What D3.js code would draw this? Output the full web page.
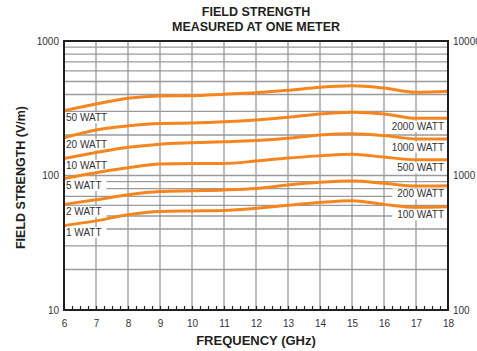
<!DOCTYPE html>
<html>
<head>
<meta charset="utf-8">
<script src="https://cdn.jsdelivr.net/npm/d3@7"></script>
<style>
  body { margin: 0; background: #fff; }
  svg { display: block; font-family: "Liberation Sans", Arial, sans-serif; }
  .tick text { fill: #333; font-size: 10px; }
  .wlabel { fill: #333; font-size: 10px; }
</style>
</head>
<body>
<div id="chart"></div>
<script>
'use strict';

// frequency in GHz
const frequencies = [6, 7, 8, 9, 10, 11, 12, 13, 14, 15, 16, 17, 18];

// field strength (V/m)
const curve1 = [303, 340, 375, 390, 392, 402, 413, 430, 453, 465, 447, 416, 423];
const curve2 = [191, 218, 234, 244, 246, 251, 259, 271, 287, 295, 287, 266, 266];
const curve3 = [134, 148, 162, 171, 175, 178, 182, 189, 200, 204, 198, 187, 187];
const curve4 = [95, 105, 114, 122, 123, 123, 128, 135, 140, 144, 137, 131, 131];
const curve5 = [61, 66, 72, 76, 77, 78, 80, 85, 89, 91, 87.5, 83.5, 84];
const curve6 = [42.4, 46, 51, 54, 54.5, 55, 57, 60, 63, 65, 61, 58, 58.6];

const leftLabels = ['50 WATT', '20 WATT', '10 WATT', '5 WATT', '2 WATT', '1 WATT'];
const rightLabels = ['', '2000 WATT', '1000 WATT', '500 WATT', '200 WATT', '100 WATT'];

const leftTicks = [10, 100, 1000];
const rightTicks = [100, 1000, 10000];
const xTicks = [6, 7, 8, 9, 10, 11, 12, 13, 14, 15, 16, 17, 18];

const curves = [curve1, curve2, curve3, curve4, curve5, curve6];

const width = 477;
const height = 351;
const plotLeft = 64, plotRight = 448, plotTop = 41, plotBottom = 310;

const x = d3.scaleLinear().domain([6, 18]).range([plotLeft, plotRight]);
const y = d3.scaleLog().domain([10, 1000]).range([plotBottom, plotTop]);
const yRight = d3.scaleLog().domain([100, 10000]).range([plotBottom, plotTop]);

const svg = d3.select('#chart').append('svg')
  .attr('width', width)
  .attr('height', height);

// grid
svg.append('g').selectAll('line')
  .data(y.ticks())
  .enter().append('line')
  .attr('x1', plotLeft).attr('x2', plotRight)
  .attr('y1', d => y(d)).attr('y2', d => y(d))
  .attr('stroke', '#9a9a9a').attr('stroke-width', 1.3);

svg.append('g').selectAll('line')
  .data(xTicks)
  .enter().append('line')
  .attr('x1', d => x(d)).attr('x2', d => x(d))
  .attr('y1', plotTop).attr('y2', plotBottom)
  .attr('stroke', '#9a9a9a').attr('stroke-width', 1.3);

// watt labels with white boxes
function addLabel(text, xpos, ypos, anchor) {
  if (!text) return;
  const g = svg.append('g');
  const rect = g.append('rect').attr('fill', '#fff');
  const t = g.append('text')
    .attr('class', 'wlabel')
    .attr('x', xpos)
    .attr('y', ypos)
    .attr('text-anchor', anchor)
    .text(text);
  const b = t.node().getBBox();
  if (anchor === 'start') {
    rect.attr('x', plotLeft + 1).attr('width', b.x + b.width + 5 - plotLeft - 1);
  } else {
    rect.attr('x', b.x - 5).attr('width', plotRight - 1 - (b.x - 5));
  }
  rect.attr('y', b.y).attr('height', b.height);
}

curves.forEach((c, i) => {
  addLabel(leftLabels[i], x(6) + 2, y(c[0]) + 10.5, 'start');
  addLabel(rightLabels[i], x(18) - 4, y(c[c.length - 1]) + 11.7, 'end');
});

// curves
const line = d3.line()
  .x((d, i) => x(frequencies[i]))
  .y(d => y(d))
  .curve(d3.curveMonotoneX);

svg.append('g').selectAll('path')
  .data(curves)
  .enter().append('path')
  .attr('d', d => line(d))
  .attr('fill', 'none')
  .attr('stroke', '#f5861f')
  .attr('stroke-width', 3);

// x axis with quarter ticks inside
const xAxis = d3.axisBottom(x)
  .tickValues(d3.range(6, 18.01, 0.25))
  .tickSize(-4)
  .tickPadding(10)
  .tickFormat(d => (Number.isInteger(d) ? d : ''));

svg.append('g')
  .attr('transform', `translate(0, ${plotBottom})`)
  .call(xAxis)
  .call(g => g.select('.domain').remove())
  .call(g => g.selectAll('.tick line').attr('stroke', '#231f20').attr('stroke-width', 1.2));

// y axes
const yAxis = d3.axisLeft(y).tickValues(leftTicks).tickSize(0).tickPadding(5).tickFormat(d3.format('d'));
svg.append('g')
  .attr('transform', `translate(${plotLeft}, 0)`)
  .call(yAxis)
  .call(g => g.select('.domain').remove());

const yAxisRight = d3.axisRight(yRight).tickValues(rightTicks).tickSize(0).tickPadding(5).tickFormat(d3.format('d'));
svg.append('g')
  .attr('transform', `translate(${plotRight}, 0)`)
  .call(yAxisRight)
  .call(g => g.select('.domain').remove());

// frame
svg.append('rect')
  .attr('x', plotLeft).attr('y', plotTop)
  .attr('width', plotRight - plotLeft).attr('height', plotBottom - plotTop)
  .attr('fill', 'none')
  .attr('stroke', '#231f20')
  .attr('stroke-width', 2);

// titles
svg.append('text')
  .attr('x', (plotLeft + plotRight) / 2).attr('y', 16)
  .attr('text-anchor', 'middle')
  .attr('font-weight', 'bold').attr('font-size', 12.5).attr('fill', '#231f20')
  .text('FIELD STRENGTH');
svg.append('text')
  .attr('x', (plotLeft + plotRight) / 2).attr('y', 31)
  .attr('text-anchor', 'middle')
  .attr('font-weight', 'bold').attr('font-size', 12.5).attr('fill', '#231f20')
  .text('MEASURED AT ONE METER');

svg.append('text')
  .attr('x', (plotLeft + plotRight) / 2).attr('y', 345)
  .attr('text-anchor', 'middle')
  .attr('font-weight', 'bold').attr('font-size', 13).attr('fill', '#231f20')
  .text('FREQUENCY (GHz)');

svg.append('text')
  .attr('transform', `translate(25, ${(plotTop + plotBottom) / 2 + 2}) rotate(-90)`)
  .attr('text-anchor', 'middle')
  .attr('font-weight', 'bold').attr('font-size', 12.5).attr('fill', '#231f20')
  .text('FIELD STRENGTH (V/m)');
</script>
</body>
</html>
